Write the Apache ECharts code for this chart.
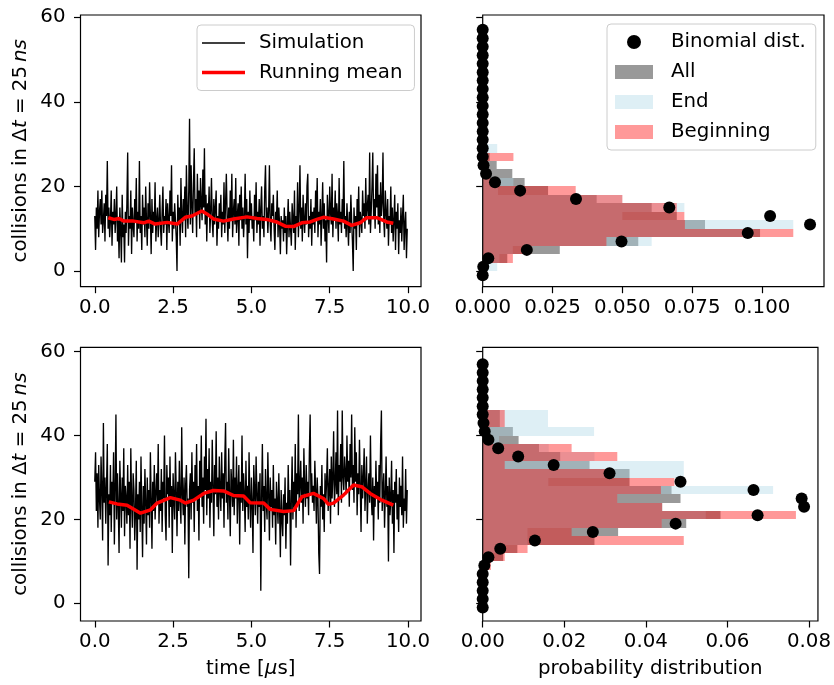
<!DOCTYPE html>
<html><head><meta charset="utf-8">
<script src="https://cdn.jsdelivr.net/npm/echarts@6/dist/echarts.min.js"></script>
<style>html,body{margin:0;padding:0;background:#fff}#c{width:834px;height:685px}</style>
</head><body><div id="c"></div>
<script>
// ---------------- data ----------------
const dt = 0.025; // sampling step in µs
const simTop = [
13,5,15,10,19,8,14,17,11,19,9,12,16,7,18,13,26,10,15,8,12,19,6,14,11,17,9,13,20,7,12,3,15,10,2,18,8,11,2,14,
9,16,28,6,13,10,19,4,15,11,8,17,12,22,7,14,10,26,9,13,5,18,11,15,8,20,12,6,16,10,21,13,4,17,9,14,11,21,7,12,
15,8,12,18,10,6,14,20,9,13,11,17,5,16,12,9,19,13,25,7,14,10,16,12,8,0,18,11,15,6,22,13,9,17,12,20,8,25,14,10,
19,36,11,25,15,9,21,29,13,17,8,23,14,19,10,22,16,12,24,15,29,11,18,7,16,13,20,9,14,22,12,8,17,11,15,19,6,13,10,16,
12,18,8,14,11,21,9,16,23,13,7,15,10,19,12,23,8,14,17,11,22,9,13,16,6,18,12,20,10,15,8,13,23,11,17,3,14,9,19,12,
16,10,13,7,18,12,21,9,14,11,17,6,15,20,10,13,8,19,25,12,15,9,14,25,11,7,16,13,18,10,5,14,12,19,8,15,11,4,13,10,
12,7,15,9,13,4,11,17,8,14,10,6,16,12,9,19,5,13,11,21,8,14,25,10,15,7,18,12,9,16,11,20,23,8,13,10,17,6,14,11,
15,9,19,12,22,8,14,11,17,6,13,21,10,16,7,12,2,18,13,9,20,14,11,23,8,15,12,19,10,16,13,7,22,11,14,9,17,12,26,10,
13,8,16,11,6,14,9,18,12,7,0,15,10,13,5,17,11,20,8,14,12,9,19,13,16,10,22,12,15,18,11,28,9,14,20,28,13,17,10,23,
15,25,11,18,9,21,13,16,28,12,8,19,14,10,17,6,13,11,20,9,15,7,12,18,5,14,10,16,4,12,9,15,7,13,18,5,11,14,3,10];
const simBottom = [
29,36,22,31,18,33,25,20,35,27,15,43,24,30,19,28,38,9,26,21,33,17,29,24,36,14,27,45,20,31,23,12,34,26,18,30,22,37,16,28,
25,19,33,21,29,13,37,24,18,31,27,15,22,34,8,26,20,29,17,35,23,11,28,19,32,24,14,30,21,27,18,36,25,13,29,22,33,20,26,31,
24,38,19,27,22,32,17,29,25,40,21,15,33,26,30,18,35,23,28,12,31,25,20,36,27,16,29,22,34,24,19,42,26,21,30,14,28,33,23,25,
6,27,31,20,36,24,29,17,33,25,38,22,28,15,34,26,40,23,30,19,35,27,44,21,32,25,37,18,29,24,39,28,16,33,26,41,23,30,20,35,
27,22,36,25,31,18,34,43,24,29,20,37,26,16,32,28,23,39,21,30,25,35,19,27,33,14,29,24,40,22,31,26,17,34,23,28,20,36,25,18,
30,24,12,33,27,21,35,26,19,29,23,31,3,25,38,22,28,17,32,24,20,36,26,15,30,23,27,18,33,21,25,14,29,24,19,31,22,11,27,20,
16,26,21,30,13,24,19,33,22,27,9,25,35,20,29,23,38,18,31,26,45,22,28,34,24,30,19,37,27,23,33,25,29,21,36,45,26,31,24,28,
22,34,27,19,30,25,12,7,28,23,33,20,26,17,31,24,29,37,22,27,32,19,35,25,30,41,23,28,36,26,46,21,33,29,38,24,46,30,27,35,
31,26,40,29,34,23,38,30,45,27,33,24,42,29,36,21,31,26,39,28,17,33,25,30,37,22,28,35,19,27,31,24,40,26,21,30,15,28,23,34,
25,29,20,33,24,38,46,22,27,31,18,26,35,23,28,10,30,21,25,34,19,27,12,29,24,32,20,26,17,30,23,28,21,35,18,25,22,32,19,27];

const meanTimeTop = [0.43,0.61,0.77,0.93,1.24,1.56,1.72,1.93,2.31,2.63,2.89,3.10,3.42,3.58,3.79,4.11,4.43,4.86,5.18,5.49,5.81,6.08,6.34,6.61,6.88,7.09,7.30,7.62,7.94,8.20,8.47,8.68,9.00,9.32,9.53];
const meanTop     = [12.6,12.2,12.4,11.8,11.8,11.4,11.8,11.1,11.5,11.1,12.7,13.0,14.2,13.5,12.3,11.8,12.3,12.8,12.4,12.2,11.6,10.6,10.5,11.4,11.6,12.2,12.7,12.3,11.8,10.8,11.4,12.6,12.6,11.6,11.3];
const meanTimeBottom = [0.45,0.71,1.03,1.46,1.78,1.99,2.41,2.73,2.89,3.16,3.48,3.79,4.11,4.43,4.75,4.96,5.39,5.60,6.03,6.35,6.61,6.98,7.30,7.46,7.62,7.94,8.26,8.52,8.79,9.11,9.53];
const meanBottom     = [24.2,23.7,23.4,21.5,22.3,23.9,25.2,24.6,23.9,24.6,26.2,26.9,26.8,25.7,25.6,24.0,23.9,22.4,21.9,22.1,25.4,26.2,25.0,23.6,23.9,25.8,28.2,27.8,26.2,24.8,23.4];

const binWidth = 2;
const binLowTop = [0,2,4,6,8,10,12,14,16,18,20,22,24,26,28];
const histAllTop = [0.0013,0.0088,0.0276,0.0557,0.0993,0.0796,0.0695,0.0605,0.0408,0.0234,0.015,0.0106,0.005,0.0025,0.0013];
const histEndTop = [0.0052,0.006,0.0108,0.0605,0.097,0.1112,0.05,0.0722,0.05,0.0055,0.011,0,0,0,0.0052];
const histBegTop = [0,0.0108,0.0174,0.0443,0.1112,0.0724,0.0722,0.0695,0.05,0.0333,0.0055,0.002,0,0.011,0];

const binLowBottom = [8,10,12,14,16,18,20,22,24,26,28,30,32,34,36,38,40,42,44];
const histAllBottom = [0.001,0.005,0.0085,0.0274,0.0332,0.0499,0.0583,0.044,0.0485,0.0463,0.036,0.036,0.0262,0.019,0.0138,0.0088,0.0074,0.0042,0.0042];
const histEndBottom = [0,0.002,0.004,0.011,0.011,0.0439,0.0547,0.044,0.033,0.0712,0.0161,0.0493,0.0493,0.0274,0.0162,0.004,0.0273,0.016,0.016];
const histBegBottom = [0.002,0.0054,0.011,0.0493,0.0218,0.0439,0.0768,0.044,0.033,0.0437,0.047,0.032,0.0054,0.033,0.0218,0.002,0,0.0054,0.0054];

const binomCenters = [-1,1,3,5,7,9,11,13,15,17,19,21,23,25,27,29,31,33,35,37,39,41,43,45,47,49,51,53,55,57];
const binomTop = [0,0.0002,0.002,0.0158,0.0497,0.0949,0.1172,0.1029,0.0668,0.0334,0.0134,0.0044,0.0012,0.0003,0,0,0,0,0,0,0,0,0,0,0,0,0,0,0,0];
const binomBottom = [0,0,0,0,0,0.0004,0.0014,0.0043,0.0128,0.027,0.0473,0.0674,0.0788,0.0782,0.0664,0.0485,0.0311,0.0174,0.0087,0.0038,0.0014,0.0005,0.0002,0,0,0,0,0,0,0];

const timeTicks = [0,2.5,5,7.5,10];
const countTicks = [0,20,40,60];
const probTicksTop = [0,0.025,0.05,0.075,0.1];
const probTicksBottom = [0,0.02,0.04,0.06,0.08];

// ---------------- chart ----------------
const FONT = 'DejaVu Sans', FS = 19.8, INK = '#000';
const C_ALL = 'rgba(128,128,128,0.8)', C_END = 'rgba(173,216,230,0.4)', C_BEG = 'rgba(255,0,0,0.4)';

const grids = [
  {left:80.5, top:15, width:340.5, height:271.7},
  {left:482.7, top:15, width:341.3, height:271.7},
  {left:80.5, top:347.3, width:340.5, height:273.7},
  {left:482.7, top:347.3, width:341.3, height:273.7}
].map(g => Object.assign({show:true, z:10, borderColor:'#000', borderWidth:1.2, backgroundColor:'rgba(0,0,0,0)', containLabel:false}, g));

function axis(gi, min, max, ticks, fmt, showLabel, margin, extra) {
  return Object.assign({
    type:'value', gridIndex:gi, min, max,
    axisLine:{show:false, onZero:false}, splitLine:{show:false},
    axisTick:{show:true, length:6.5, lineStyle:{color:INK, width:1.2}, customValues:ticks},
    axisLabel:{show:showLabel, customValues:ticks, formatter:fmt, color:INK, fontFamily:FONT, fontSize:FS, margin:margin}
  }, extra || {});
}
const rich = {
  a:{fontFamily:FONT, fontSize:FS, color:INK},
  b:{fontFamily:FONT, fontSize:FS, color:INK, fontStyle:'italic'}
};
const yName = '{a|collisions in Δ}{b|t}{a| = 25\u2009}{b|ns}';
const yExtra = {name:yName, nameLocation:'middle', nameGap:50, nameRotate:90, nameTextStyle:{rich}};

const xAxis = [
  axis(0, -0.456, 10.414, timeTicks, v => v.toFixed(1), true, 11),
  axis(1, 0, 0.1222, probTicksTop, v => v.toFixed(3), true, 11),
  axis(2, -0.456, 10.414, timeTicks, v => v.toFixed(1), true, 11,
       {name:'{a|time [}{b|μ}{a|s]}', nameLocation:'middle', nameGap:38, nameTextStyle:{rich}}),
  axis(3, 0, 0.0822, probTicksBottom, v => v.toFixed(2), true, 11,
       {name:'probability distribution', nameLocation:'middle', nameGap:38, nameTextStyle:{fontFamily:FONT, fontSize:FS, color:INK}})
];
const yAxis = [
  axis(0, -3.7, 60.5, countTicks, v => String(v), true, 15, yExtra),
  axis(1, -3.7, 60.5, countTicks, v => String(v), false, 15),
  axis(2, -4.22, 61.05, countTicks, v => String(v), true, 15, yExtra),
  axis(3, -4.22, 61.05, countTicks, v => String(v), false, 15)
];

function simSeries(gi, vals) {
  return {type:'line', name:'Simulation', xAxisIndex:gi, yAxisIndex:gi, symbol:'none', z:2,
    data: vals.map((v,i) => [i*dt, v]), lineStyle:{color:'#000', width:1.35}, itemStyle:{color:'#000'}};
}
function meanSeries(gi, ts, vals) {
  return {type:'line', name:'Running mean', xAxisIndex:gi, yAxisIndex:gi, symbol:'none', z:3,
    data: ts.map((t,i) => [t, vals[i]]), lineStyle:{color:'#ff0000', width:3.5}, itemStyle:{color:'#ff0000'}};
}
function histSeries(name, gi, lows, vals, color, z) {
  return {type:'custom', name, xAxisIndex:gi, yAxisIndex:gi, z, silent:true,
    itemStyle:{color},
    data: lows.map((lo,i) => [vals[i], lo, lo + binWidth]),
    encode:{x:0, y:[1,2]},
    renderItem:(params, api) => {
      const w = api.value(0), lo = api.value(1), hi = api.value(2);
      const a = api.coord([0, lo]), b = api.coord([w, hi]);
      const y0 = Math.round(a[1]), y1 = Math.round(b[1]);
      return {type:'rect', shape:{x:a[0], y:y1, width:b[0]-a[0], height:y0-y1}, style:{fill:color}};
    }};
}
function binomSeries(gi, vals) {
  return {type:'scatter', name:'Binomial dist.', xAxisIndex:gi, yAxisIndex:gi, z:6, symbolSize:12,
    data: binomCenters.map((c,i) => [vals[i], c]), itemStyle:{color:'#000', opacity:1}};
}

const series = [
  simSeries(0, simTop), meanSeries(0, meanTimeTop, meanTop),
  histSeries('All', 1, binLowTop, histAllTop, C_ALL, 3),
  histSeries('End', 1, binLowTop, histEndTop, C_END, 4),
  histSeries('Beginning', 1, binLowTop, histBegTop, C_BEG, 5),
  binomSeries(1, binomTop),
  simSeries(2, simBottom), meanSeries(2, meanTimeBottom, meanBottom),
  histSeries('All', 3, binLowBottom, histAllBottom, C_ALL, 3),
  histSeries('End', 3, binLowBottom, histEndBottom, C_END, 4),
  histSeries('Beginning', 3, binLowBottom, histBegBottom, C_BEG, 5),
  binomSeries(3, binomBottom)
];

const legendCommon = {
  orient:'vertical', selectedMode:false, backgroundColor:'rgba(255,255,255,0.8)',
  borderColor:'#cccccc', borderWidth:1, borderRadius:4, z:20,
  textStyle:{fontFamily:FONT, fontSize:FS, color:INK, lineHeight:20}
};
const legend = [
  Object.assign({}, legendCommon, {left:197, top:25, itemWidth:43, itemHeight:14, itemGap:9.5, padding:[8,12,8,5],
    textStyle:Object.assign({}, legendCommon.textStyle, {padding:[0,0,0,9]}),
    data:[{name:'Simulation', icon:'path://M0,0H40V1.3H0Z'}, {name:'Running mean', icon:'path://M0,0H40V3.3H0Z'}]}),
  Object.assign({}, legendCommon, {left:607, top:24, itemWidth:38, itemHeight:14, itemGap:10, padding:[8,10,8,8],
    textStyle:Object.assign({}, legendCommon.textStyle, {padding:[0,0,0,13]}),
    data:[{name:'Binomial dist.', icon:'circle'}, {name:'All', icon:'rect'}, {name:'End', icon:'rect'}, {name:'Beginning', icon:'rect'}]})
];

const chart = echarts.init(document.getElementById('c'), null, {renderer:'canvas'});
chart.setOption({animation:false, backgroundColor:'#fff', grid:grids, xAxis, yAxis, series, legend});
</script></body></html>
